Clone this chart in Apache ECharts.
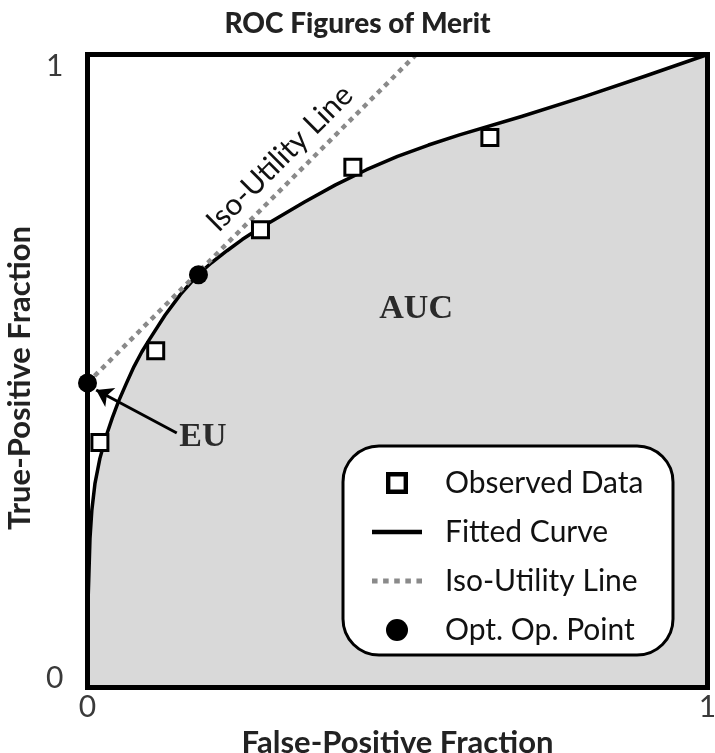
<!DOCTYPE html>
<html>
<head>
<meta charset="utf-8">
<script src="https://cdn.jsdelivr.net/npm/echarts@6/dist/echarts.min.js"></script>
<style>
html,body{margin:0;padding:0;background:#fff;}
#chart{width:715px;height:753px;}
</style>
</head>
<body>
<div id="chart"></div>
<script>
// ---- data ----
var curveX = [0, 0.0005, 0.001, 0.002, 0.004, 0.007, 0.012, 0.02, 0.03, 0.04, 0.05, 0.0625, 0.075, 0.0875, 0.1, 0.125, 0.15, 0.178, 0.2, 0.225, 0.25, 0.275, 0.3, 0.35, 0.4, 0.45, 0.5, 0.55, 0.6, 0.7, 0.8, 0.9, 1];
var curveY = [0, 0.11, 0.14, 0.17, 0.235, 0.28, 0.322, 0.362, 0.397, 0.426, 0.452, 0.48, 0.507, 0.53, 0.55, 0.588, 0.621, 0.652, 0.671, 0.69, 0.708, 0.724, 0.738, 0.767, 0.794, 0.818, 0.839, 0.857, 0.873, 0.902, 0.933, 0.966, 1];
var obsX = [0.02, 0.11, 0.279, 0.428, 0.649];
var obsY = [0.387, 0.532, 0.723, 0.822, 0.869];
var optX = [0, 0.179];
var optY = [0.481, 0.652];
var isoX = [0, 0.53];
var isoY = [0.481, 1.0];
var xTicks = [0, 1];
var yTicks = [0, 1];
var seriesNames = ['Observed Data', 'Fitted Curve', 'Iso-Utility Line', 'Opt. Op. Point'];

function zip(a, b) { return a.map(function (v, i) { return [v, b[i]]; }); }

var sansFont = 'Lato';
var chart = echarts.init(document.getElementById('chart'), null, {renderer: 'canvas'});

var option = {
  animation: false,
  backgroundColor: '#fff',
  title: {
    text: 'ROC Figures of Merit',
    left: 'center',
    top: 5,
    textStyle: {fontFamily: sansFont, fontSize: 28, fontWeight: 900, color: '#222'}
  },
  grid: {
    left: 87.5, right: 7.5, top: 54.5, bottom: 65.5,
    outerBoundsMode: 'none', containLabel: false,
    show: true, borderColor: '#000', borderWidth: 5,
    backgroundColor: 'transparent', z: 10
  },
  xAxis: {
    type: 'value', min: 0, max: 1, interval: 1,
    name: 'False-Positive Fraction', nameLocation: 'middle', nameGap: 26,
    nameTextStyle: {fontFamily: sansFont, fontSize: 31, fontWeight: 'bold', color: '#222'},
    axisLine: {show: false}, axisTick: {show: false}, splitLine: {show: false},
    axisLabel: {
      margin: 5, fontFamily: sansFont, fontSize: 30, color: '#3a3a3a',
      formatter: function (v) { return xTicks.indexOf(v) >= 0 ? String(v) : ''; }
    }
  },
  yAxis: {
    type: 'value', min: 0, max: 1, interval: 1,
    name: 'True-Positive Fraction', nameLocation: 'middle', nameGap: 43,
    nameTextStyle: {fontFamily: sansFont, fontSize: 31, fontWeight: 'bold', color: '#222', padding: [0, 14, 0, 0]},
    axisLine: {show: false}, axisTick: {show: false}, splitLine: {show: false},
    axisLabel: {
      margin: 24, fontFamily: sansFont, fontSize: 30, color: '#3a3a3a',
      formatter: function (v) {
        if (yTicks.indexOf(v) < 0) return '';
        return v === 1 ? '{t|' + v + '}' : '{b|' + v + '}';
      },
      rich: {
        t: {fontFamily: sansFont, fontSize: 30, color: '#3a3a3a', padding: [23, 0, 0, 0]},
        b: {fontFamily: sansFont, fontSize: 30, color: '#3a3a3a', padding: [0, 0, 19, 0]}
      }
    }
  },
  legend: {
    orient: 'vertical',
    left: 343, top: 446,
    padding: [20, 18, 8, 29],
    itemWidth: 50, itemHeight: 22, itemGap: 15,
    backgroundColor: '#fff', borderColor: '#000', borderWidth: 3, borderRadius: 36,
    z: 12,
    textStyle: {fontFamily: sansFont, fontSize: 30, color: '#111', lineHeight: 34, width: 210, padding: [0, 0, 0, 18]},
    data: [
      {name: seriesNames[0], icon: 'path://M0,0h10v10h-10z M2,2v6h6v-6z', itemStyle: {color: '#000', borderWidth: 0, opacity: 1}},
      {name: seriesNames[1], icon: 'path://M0,0h50v4.5h-50z', itemStyle: {color: '#000', borderWidth: 0}},
      {name: seriesNames[2], icon: 'path://M0,0h5v4.5h-5z M10,0h5v4.5h-5z M20,0h5v4.5h-5z M30,0h5v4.5h-5z M40,0h5v4.5h-5z', itemStyle: {color: '#8a8a8a', borderWidth: 0}},
      {name: seriesNames[3], icon: 'circle', itemStyle: {color: '#000', borderWidth: 0, opacity: 1}}
    ]
  },
  series: [
    {
      name: seriesNames[1], type: 'line', data: zip(curveX, curveY),
      symbol: 'none', smooth: false,
      lineStyle: {color: '#000', width: 3.5, join: 'round'},
      areaStyle: {color: '#d9d9d9', opacity: 1},
      itemStyle: {color: '#000'},
      z: 2
    },
    {
      name: seriesNames[2], type: 'line', data: zip(isoX, isoY),
      symbol: 'none',
      lineStyle: {color: '#8a8a8a', width: 4.5, type: [5, 5]},
      itemStyle: {color: '#8a8a8a'},
      z: 3
    },
    {
      name: seriesNames[0], type: 'scatter', data: zip(obsX, obsY),
      symbol: 'rect', symbolSize: 16,
      itemStyle: {color: '#fff', borderColor: '#000', borderWidth: 3, opacity: 1},
      z: 4
    },
    {
      name: seriesNames[3], type: 'scatter', data: zip(optX, optY),
      symbol: 'circle', symbolSize: 19,
      itemStyle: {color: '#000', opacity: 1},
      z: 5,
      markLine: {
        silent: true, symbolSize: 16, animation: false,
        label: {show: false},
        lineStyle: {color: '#000', width: 3, type: 'solid', opacity: 1},
        data: [[{coord: [0.144, 0.402], symbol: 'none'}, {coord: [0.014, 0.47], symbol: 'arrow'}]]
      }
    }
  ]
};
chart.setOption(option);

// text annotations anchored in data coordinates
var notes = [
  {text: 'Iso-Utility Line', at: [0.31, 0.836], rot: Math.PI / 4, font: '30px Lato', color: '#111'},
  {text: 'AUC', at: [0.53, 0.597], rot: 0, font: 'bold 34px "Liberation Serif"', color: '#2a2a2a'},
  {text: 'EU', at: [0.186, 0.395], rot: 0, font: 'bold 34px "Liberation Serif"', color: '#2a2a2a'}
];
chart.setOption({
  graphic: notes.map(function (n) {
    var p = chart.convertToPixel({gridIndex: 0}, n.at);
    return {
      type: 'text', x: p[0], y: p[1], rotation: n.rot, z: 8,
      style: {text: n.text, font: n.font, fill: n.color, align: 'center', verticalAlign: 'middle'}
    };
  })
});
</script>
</body>
</html>
